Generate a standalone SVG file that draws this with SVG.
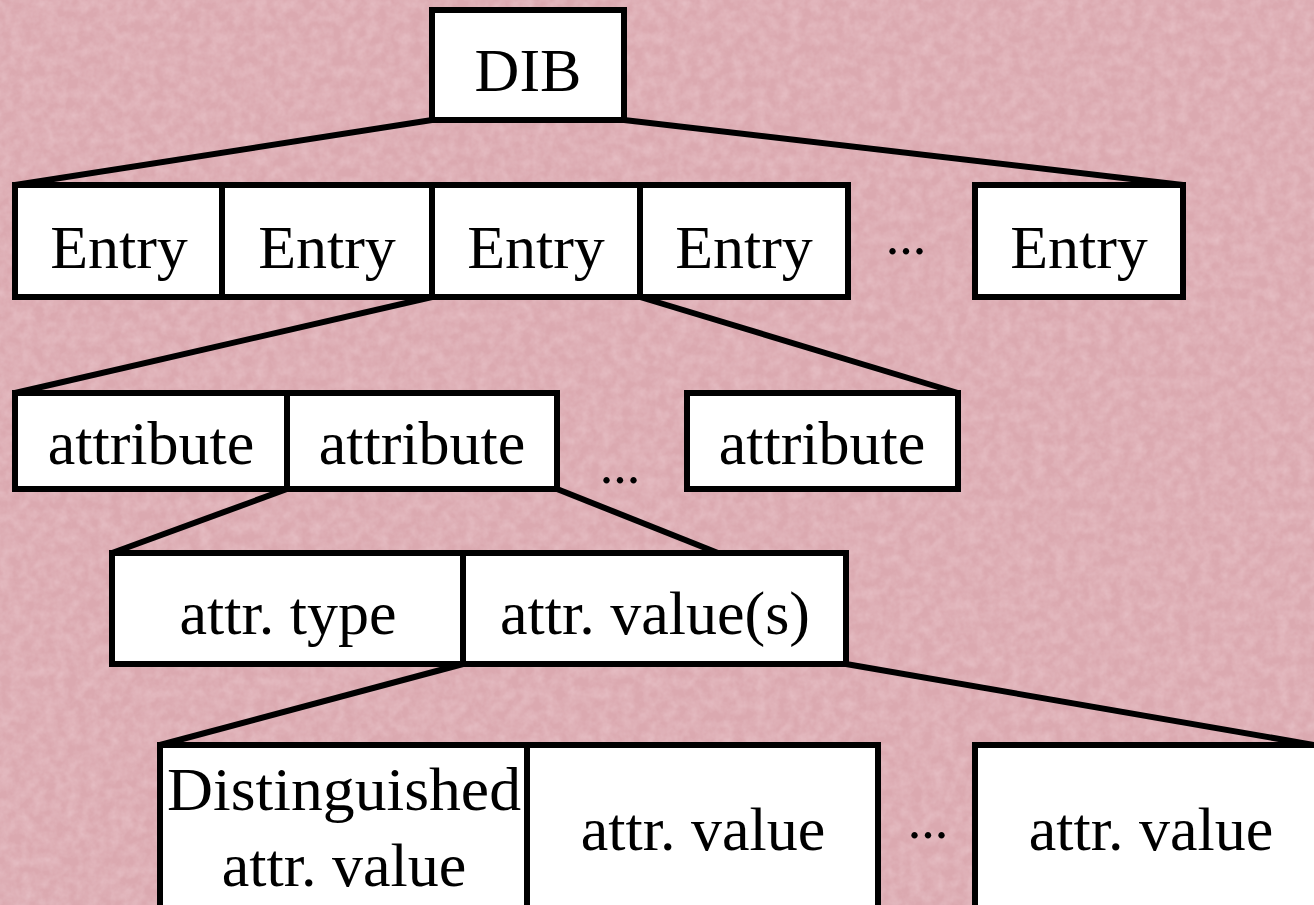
<svg xmlns="http://www.w3.org/2000/svg" width="1314" height="905" viewBox="0 0 1314 905">
<defs>
<filter id="tex" x="0" y="0" width="100%" height="100%">
<feTurbulence type="fractalNoise" baseFrequency="0.09" numOctaves="3" seed="7" result="n"/>
<feColorMatrix in="n" type="matrix" values="0 0 0 0 0.93  0 0 0 0 0.74  0 0 0 0 0.77  0 0 0 -1.4 1.0"/>
</filter>
<style>
.box{fill:#ffffff;stroke:#000000;stroke-width:6}
.ln{stroke:#000000;stroke-width:6;fill:none;stroke-linejoin:miter}
.t{font-family:"Liberation Serif","Times New Roman",serif;font-size:62px;fill:#000000;text-anchor:middle}
.d{font-family:"Liberation Serif","Times New Roman",serif;font-size:54px;fill:#000000;text-anchor:middle}
</style>
</defs>
<rect x="0" y="0" width="1314" height="905" fill="#dba9b0"/>
<rect x="0" y="0" width="1314" height="905" filter="url(#tex)" opacity="0.4"/>
<g id="connectors">
<path class="ln" d="M432,120 L15,185"/>
<path class="ln" d="M624,120 L1183,185"/>
<path class="ln" d="M432,297 L15,393"/>
<path class="ln" d="M640,297 L958,393"/>
<path class="ln" d="M287,489 L112,553"/>
<path class="ln" d="M557,489 L718,553"/>
<path class="ln" d="M463,664 L160,745"/>
<path class="ln" d="M846,664 L1314,745"/>
</g>
<g id="dib"><rect class="box" x="432" y="10" width="192" height="110"/><text class="t" x="528" y="91">DIB</text></g>
<g id="entry1"><rect class="box" x="15" y="185" width="207" height="112"/><text class="t" x="119" y="268">Entry</text></g>
<g id="entry2"><rect class="box" x="222" y="185" width="210" height="112"/><text class="t" x="327" y="268">Entry</text></g>
<g id="entry3"><rect class="box" x="432" y="185" width="208" height="112"/><text class="t" x="536" y="268">Entry</text></g>
<g id="entry4"><rect class="box" x="640" y="185" width="208" height="112"/><text class="t" x="744" y="268">Entry</text></g>
<g id="entry-dots"><text class="d" x="906" y="254">...</text></g>
<g id="entry5"><rect class="box" x="975" y="185" width="208" height="112"/><text class="t" x="1079" y="268">Entry</text></g>
<g id="attr1"><rect class="box" x="15" y="393" width="272" height="96"/><text class="t" x="151" y="464">attribute</text></g>
<g id="attr2"><rect class="box" x="287" y="393" width="270" height="96"/><text class="t" x="422" y="464">attribute</text></g>
<g id="attr-dots"><text class="d" x="620" y="483">...</text></g>
<g id="attr3"><rect class="box" x="687" y="393" width="271" height="96"/><text class="t" x="822" y="464">attribute</text></g>
<g id="attrtype"><rect class="box" x="112" y="553" width="351" height="111"/><text class="t" x="288" y="634">attr. type</text></g>
<g id="attrvalues"><rect class="box" x="463" y="553" width="383" height="111"/><text class="t" x="655" y="634">attr. value(s)</text></g>
<g id="distval"><rect class="box" x="160" y="745" width="367" height="175"/><text class="t" x="344" y="810" textLength="354" lengthAdjust="spacingAndGlyphs">Distinguished</text><text class="t" x="344" y="886">attr. value</text></g>
<g id="val1"><rect class="box" x="527" y="745" width="351" height="175"/><text class="t" x="703" y="850">attr. value</text></g>
<g id="val-dots"><text class="d" x="928" y="838">...</text></g>
<g id="val2"><rect class="box" x="975" y="745" width="350" height="175"/><text class="t" x="1151" y="850">attr. value</text></g>
</svg>
